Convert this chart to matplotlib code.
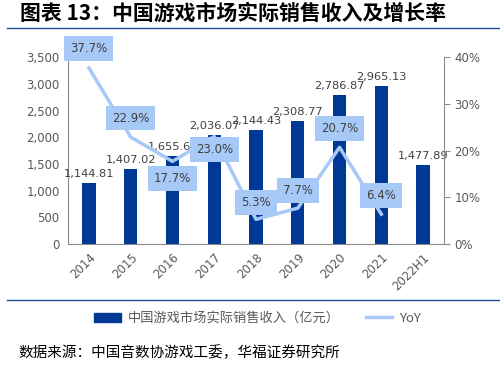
import matplotlib
matplotlib.use("Agg")
import matplotlib.pyplot as plt
from matplotlib.lines import Line2D
from matplotlib.patches import Patch
from matplotlib.ticker import FuncFormatter, MultipleLocator

plt.rcParams['font.family'] = ['Noto Sans CJK SC', 'DejaVu Sans']

categories = ["2014", "2015", "2016", "2017", "2018", "2019", "2020", "2021", "2022H1"]
revenue = [1144.81, 1407.02, 1655.66, 2036.07, 2144.43, 2308.77, 2786.87, 2965.13, 1477.89]
yoy = [37.7, 22.9, 17.7, 23.0, 5.3, 7.7, 20.7, 6.4]
yoy_label_offsets = [19, 19, -17, -13, 17, 18, 19, 19]

bar_color = "#003896"
line_color = "#A7C9F7"
text_color = "#404040"
tick_color = "#595959"
rule_color = "#1F4E9A"

fig = plt.figure(figsize=(5.0, 3.66), dpi=100)
ax = fig.add_axes([0.136, 0.333, 0.752, 0.511])
ax2 = ax.twinx()

x = list(range(len(categories)))
ax.bar(x, revenue, width=0.32, color=bar_color, zorder=2)
ax.set_xlim(-0.5, len(categories) - 0.5)
ax.set_ylim(0, 3500)
ax.yaxis.set_major_locator(MultipleLocator(500))
ax.yaxis.set_major_formatter(FuncFormatter(lambda v, p: f"{v:,.0f}"))
for xi, v in zip(x, revenue):
    ax.annotate(f"{v:,.2f}", (xi, v), xytext=(0, 4), textcoords="offset pixels",
                ha="center", va="bottom", fontsize=8.2, color=text_color,
                family=['DejaVu Sans'], zorder=3)

ax2.plot(x[:len(yoy)], yoy, color=line_color, lw=2.5, zorder=3)
ax2.set_ylim(0, 40)
ax2.yaxis.set_major_locator(MultipleLocator(10))
ax2.yaxis.set_major_formatter(FuncFormatter(lambda v, p: f"{v:.0f}%"))
for xi, v, off in zip(x, yoy, yoy_label_offsets):
    ax2.annotate(f"{v:.1f}%", (xi, v), xytext=(0, off), textcoords="offset pixels",
                 ha="center", va="center", fontsize=8.5, color=text_color,
                 family=['DejaVu Sans'], zorder=5,
                 bbox=dict(boxstyle="square,pad=0.5", fc=line_color, ec="none"))

for a in (ax, ax2):
    a.spines['top'].set_visible(False)
    for s in ('left', 'right', 'bottom'):
        a.spines[s].set_color("#8C8C8C")
ax.spines['right'].set_visible(False)
ax2.spines['left'].set_visible(False)
ax2.spines['bottom'].set_visible(False)

ax.set_xticks(x)
ax.set_xticklabels(categories, rotation=45, ha="right", rotation_mode="anchor",
                   fontsize=8.5, color=tick_color, family=['DejaVu Sans'])
ax.tick_params(axis='x', length=0, pad=5)
ax.tick_params(axis='y', length=0, labelsize=8.5, labelcolor=tick_color, pad=6)
ax2.tick_params(axis='y', length=4, color="#8C8C8C", labelsize=8.5, labelcolor=tick_color)
for lab in ax.get_yticklabels() + ax2.get_yticklabels():
    lab.set_family(['DejaVu Sans'])

handles = [Patch(color=bar_color), Line2D([0], [0], color=line_color, lw=2.5)]
labels = ["中国游戏市场实际销售收入（亿元）", "YoY"]
fig.legend(handles, labels, loc="center", bbox_to_anchor=(0.515, 0.13), ncol=2,
           frameon=False, fontsize=9.5, labelcolor=tick_color, handlelength=2.0,
           columnspacing=2.0, handletextpad=0.5)

fig.text(0.04, 0.965, "图表 13：中国游戏市场实际销售收入及增长率", fontsize=15,
         fontweight="bold", color="#000000", va="center", ha="left")
fig.add_artist(Line2D([0.014, 1.0], [0.924, 0.924], color=rule_color, lw=1.0))
fig.add_artist(Line2D([0.014, 1.0], [0.18, 0.18], color=rule_color, lw=1.0))
fig.text(0.036, 0.037, "数据来源：中国音数协游戏工委，华福证券研究所", fontsize=10.5,
         color="#000000", va="center", ha="left")

fig.savefig("out.png", dpi=100)
